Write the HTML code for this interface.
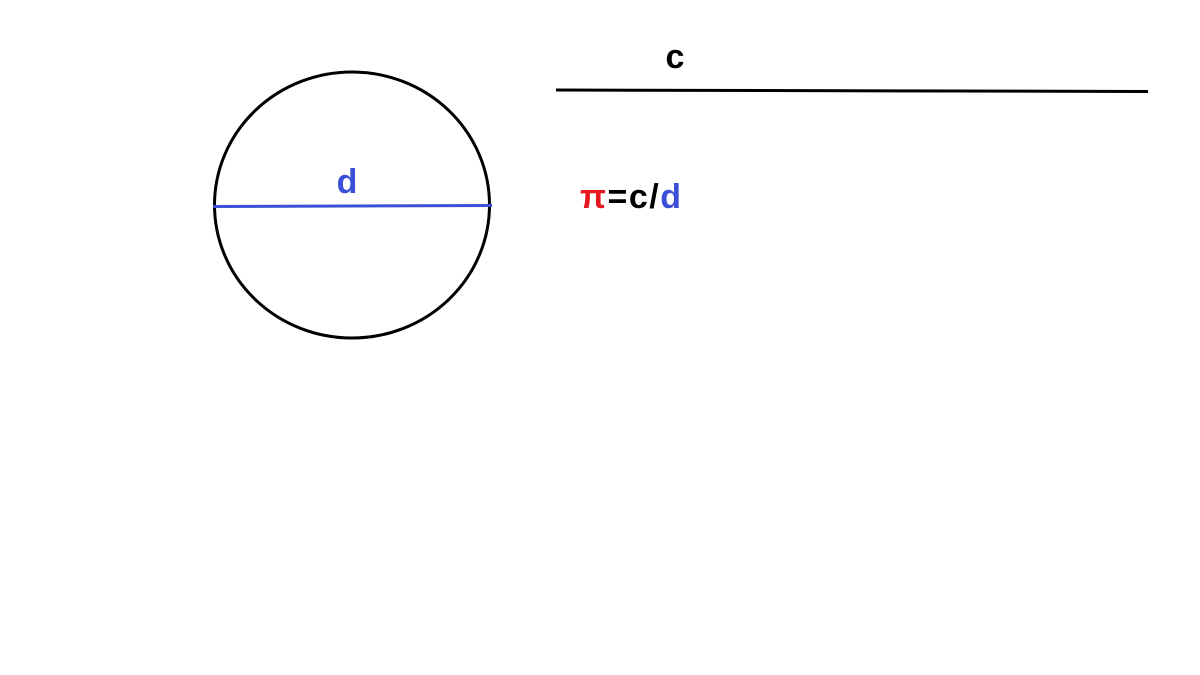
<!DOCTYPE html>
<html><head><style>
html,body{margin:0;padding:0;background:#fff;width:1200px;height:675px;overflow:hidden}
</style></head><body>
<svg width="1200" height="675" xmlns="http://www.w3.org/2000/svg">
<rect width="1200" height="675" fill="#fff"/>
<ellipse cx="352" cy="205" rx="137.5" ry="133" fill="none" stroke="#000" stroke-width="3"/>
<line x1="213" y1="206.5" x2="492" y2="205.5" stroke="#3b4fd8" stroke-width="3"/>
<line x1="556" y1="90" x2="1148" y2="91.5" stroke="#000" stroke-width="3"/>
<text x="347" y="193" font-family="Liberation Sans, sans-serif" font-weight="bold" font-size="34" fill="#3b4fd8" text-anchor="middle">d</text>
<text x="675" y="68" font-family="Liberation Sans, sans-serif" font-weight="bold" font-size="34" fill="#000" text-anchor="middle">c</text>
<text x="580" y="208" font-family="Liberation Sans, sans-serif" font-weight="bold" font-size="34" letter-spacing="1.5"><tspan fill="#e8161e">π</tspan><tspan fill="#000">=c/</tspan><tspan fill="#3b4fd8">d</tspan></text>
</svg>
</body></html>
